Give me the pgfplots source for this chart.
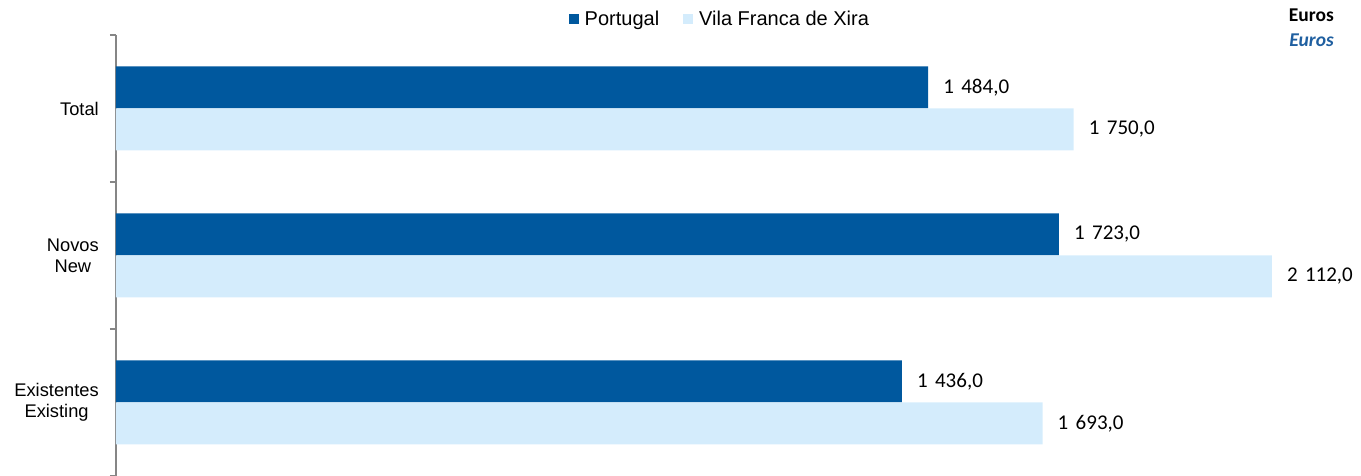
\documentclass[border=0pt]{standalone}
\usepackage{pgfplots}
\pgfplotsset{compat=1.18}
\usepackage{fontspec}
\setmainfont{Liberation Sans}
\newfontfamily\carlito{Carlito}
\definecolor{pt}{RGB}{0,88,158}
\definecolor{vfx}{RGB}{212,236,252}
\definecolor{axgray}{RGB}{134,134,134}
\definecolor{eurblue}{RGB}{31,95,160}
\newcommand{\ts}{\kern0.35em}
\begin{document}
\begin{tikzpicture}[x=1pt,y=1pt]
\useasboundingbox (0,0) rectangle (1361,476);
\begin{axis}[
 at={(116pt,0pt)}, anchor=south west,
 scale only axis, width=1245pt, height=441pt,
 xbar, xmin=0, xmax=2275, ymin=-0.5, ymax=2.5,
 axis y line*=left, axis x line=none,
 y axis line style={axgray, line width=1.5pt, -},
 ytick={0,1,2}, yticklabels={{Existentes\\Existing},{Novos\\New},{Total}},
 yticklabel style={align=center, inner sep=0pt, xshift=-17pt, font=\fontsize{18.3}{21}\selectfont},
 tick align=outside,
 major tick length=0pt,
 extra y ticks={-0.5,0.5,1.5,2.5}, extra y tick labels={},
 extra y tick style={major tick length=6pt, tick style={axgray, line width=1.5pt}},
 bar width=42pt,
 clip=false,
 nodes near coords, point meta=explicit symbolic,
 every node near coord/.append style={anchor=west, inner sep=0pt, xshift=15pt, font=\carlito\fontsize{21}{24}\selectfont, text=black},
 legend style={draw=none, fill=none, legend columns=2, at={(axis description cs:0.485,1.036)}, anchor=center, font=\fontsize{20}{24}\selectfont, /tikz/every even column/.append style={column sep=22pt}},
 legend image code/.code={\fill[#1, draw=none] (0pt,-5pt) rectangle (10pt,5pt); \path (14pt,0pt);},
]
\addplot[fill=pt, draw=none, bar shift=21pt] coordinates {
 (1436,0) [1\ts436,0]
 (1723,1) [1\ts723,0]
 (1484,2) [1\ts484,0]
};
\addlegendentry{Portugal}
\addplot[fill=vfx, draw=none, bar shift=-21pt] coordinates {
 (1693,0) [1\ts693,0]
 (2112,1) [2\ts112,0]
 (1750,2) [1\ts750,0]
};
\addlegendentry{Vila Franca de Xira}
\end{axis}
\node[anchor=base east, inner sep=0pt, font=\carlito\bfseries\fontsize{19.5}{22}\selectfont] at (1334,454) {Euros};
\node[anchor=base east, inner sep=0pt, font=\carlito\bfseries\itshape\fontsize{19.5}{22}\selectfont, text=eurblue] at (1334,429) {Euros};
\end{tikzpicture}
\end{document}
